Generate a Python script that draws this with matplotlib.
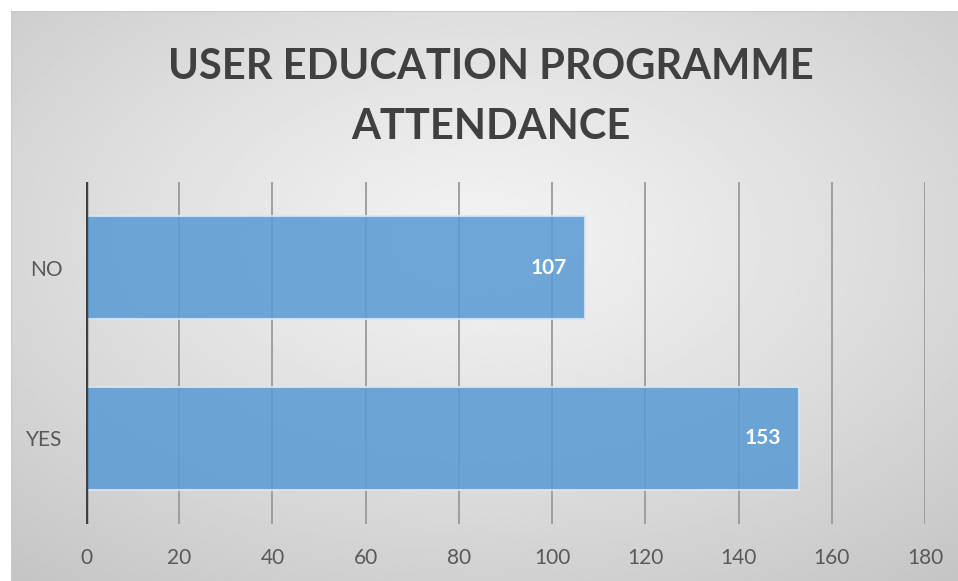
import numpy as np
import matplotlib.pyplot as plt

categories = ["YES", "NO"]
counts = [153, 107]
x_ticks = [0, 20, 40, 60, 80, 100, 120, 140, 160, 180]
title = "USER EDUCATION PROGRAMME\nATTENDANCE"

W, H = 958, 581


def main():
    plt.rcParams["font.family"] = ["Lato", "DejaVu Sans"]
    fig = plt.figure(figsize=(W / 100, H / 100), dpi=100)

    # radial gradient background for the chart area
    bg = fig.add_axes([11 / W, 0, (W - 11) / W, (H - 11) / H])
    yy, xx = np.mgrid[-1:1:300j, -1:1:500j]
    r = np.sqrt(xx ** 2 + (yy + 0.2) ** 2) / np.sqrt(2)
    shade = 0.95 - 0.16 * r ** 1.2
    bg.imshow(shade, cmap="gray", vmin=0, vmax=1, aspect="auto",
              extent=[0, 1, 0, 1])
    bg.set_axis_off()
    bg.plot([0, 1], [1, 1], color="#c8c8c8", lw=1.5, transform=bg.transAxes)
    bg.plot([0, 0], [0, 1], color="#c8c8c8", lw=1.5, transform=bg.transAxes)

    ax = fig.add_axes([86 / W, 1 - 524 / H, (925 - 86) / W, (524 - 182) / H])
    ax.patch.set_alpha(0)
    ax.set_xlim(0, 180)
    ax.set_ylim(-0.5, 1.5)

    for x in x_ticks[1:]:
        ax.axvline(x, color="#9a9a9a", lw=1.3, zorder=1)

    bars = ax.barh(categories, counts, height=0.6, color="#5B9BD5", alpha=0.87,
                   edgecolor="#dbe6f1", linewidth=1.5, zorder=2)
    for bar, v in zip(bars, counts):
        ax.annotate(str(v), (v, bar.get_y() + bar.get_height() / 2),
                    xytext=(-13, 0), textcoords="offset points",
                    ha="right", va="center", color="white",
                    fontsize=15, fontweight="bold", zorder=3)

    ax.axvline(0, color="#404040", lw=3.2, zorder=4)

    for s in ax.spines.values():
        s.set_visible(False)
    ax.set_xticks(x_ticks)
    ax.tick_params(axis="x", length=0, pad=17, labelsize=15, labelcolor="#595959")
    ax.tick_params(axis="y", length=0, pad=17, labelsize=15, labelcolor="#595959")

    fig.text(491 / W, 1 - 97 / H, title, ha="center", va="center",
             fontsize=30, fontweight="bold", color="#404040", linespacing=1.68)

    fig.savefig("out.png", dpi=100, facecolor="white")


if __name__ == "__main__":
    main()
